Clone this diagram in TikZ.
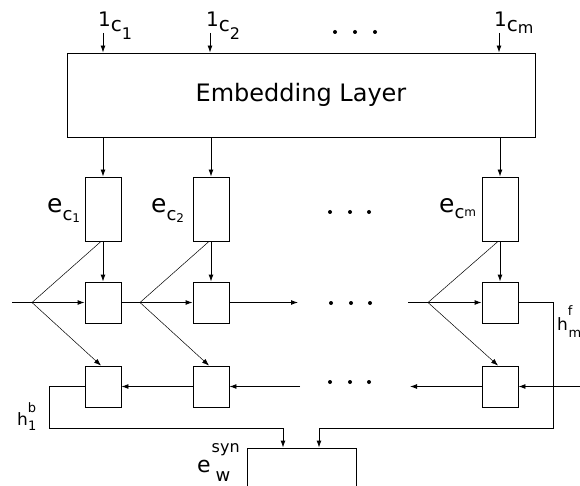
\documentclass[tikz,border=0pt]{standalone}
\usepackage{fontspec}
\setmainfont{DejaVu Sans}
\usetikzlibrary{arrows.meta}
\newcommand{\fs}[1]{\fontsize{#1}{#1}\selectfont}
\begin{document}
\begin{tikzpicture}[x=1pt,y=-1pt,
  box/.style={draw,line width=0.9pt,inner sep=0pt,rectangle},
  cell/.style={box,minimum width=36pt,minimum height=41pt},
  ebox/.style={box,minimum width=36pt,minimum height=64pt},
  ln/.style={line width=0.9pt},
  arr/.style={ln,-{Latex[length=7pt,width=5pt]}},
  fk/.style={line width=0.5pt},
  fkarr/.style={fk,-{Latex[length=7pt,width=5pt]}},
  lab/.style={anchor=base west,inner sep=0pt}]
\useasboundingbox (0,0) rectangle (580,486);
\fill[white] (0,0) rectangle (580,486);
% embedding layer
\node[box,minimum width=468pt,minimum height=84pt] (emb) at (301,95) {\fs{24}\raisebox{3pt}{Embedding Layer}};
% inputs
\node[lab] (l1) at (98,27) {\fs{20}1\raisebox{-5pt}{c}\raisebox{-13pt}{\fs{16}1}};
\node[lab] (l2) at (206,27) {\fs{20}1\raisebox{-5pt}{c}\raisebox{-13pt}{\fs{16}2}};
\node[lab] (lm) at (494,27) {\fs{20}1\raisebox{-5pt}{c}\raisebox{-7pt}{\fs{16}m}};
\coordinate (i1) at (103,33);
\coordinate (i2) at (210,33);
\coordinate (im) at (499,33);
\draw[arr] (i1) -- (i1 |- emb.north);
\draw[arr] (i2) -- (i2 |- emb.north);
\draw[arr] (im) -- (im |- emb.north);
\foreach \x in {335,355,375} \fill (\x,32) circle (2);
% embedding vectors
\node[ebox] (e1) at (103,209) {};
\node[ebox] (e2) at (211,209) {};
\node[ebox] (em) at (500,209) {};
\node[lab] (le1) at (47,212) {\fs{25}e\raisebox{-8pt}{\fs{18}c}\raisebox{-10pt}{\fs{12}1}};
\node[lab] (le2) at (151,212) {\fs{25}e\raisebox{-8pt}{\fs{18}c}\raisebox{-10pt}{\fs{12}2}};
\node[lab] (lem) at (439,212) {\fs{25}e\raisebox{-6pt}{\fs{18}c}\raisebox{-5pt}{\fs{12}m}};
\draw[arr] (e1 |- emb.south) -- (e1.north);
\draw[arr] (e2 |- emb.south) -- (e2.north);
\draw[arr] (em |- emb.south) -- (em.north);
\foreach \x in {330,350,369} \fill (\x,212) circle (2);
% forward cells
\node[cell] (f1) at (103,302.5) {};
\node[cell] (f2) at (211,302.5) {};
\node[cell] (fm) at (500,302.5) {};
% backward cells
\node[cell] (b1) at (103,386.5) {};
\node[cell] (b2) at (211,386.5) {};
\node[cell] (bm) at (500,386.5) {};
\draw[arr] (e1.south) -- (f1.north);
\draw[arr] (e2.south) -- (f2.north);
\draw[arr] (em.south) -- (fm.north);
% forks
\coordinate (k1) at (32,302.5);
\coordinate (k2) at (140,302.5);
\coordinate (km) at (428,302.5);
\draw[fk] (k1) -- ([xshift=-2pt]e1.south);
\draw[fk] (k2) -- ([xshift=-2pt]e2.south);
\draw[fk] (km) -- ([xshift=-2pt]em.south);
\draw[fkarr] (k1) -- ([xshift=-2pt]b1.north);
\draw[fkarr] (k2) -- ([xshift=-2pt]b2.north);
\draw[fkarr] (km) -- ([xshift=-2pt]bm.north);
% forward row
\coordinate (fin) at (12,302.5);
\coordinate (fo2) at (298,302.5);
\coordinate (fim) at (408,302.5);
\coordinate (rc) at (553,302.5);
\coordinate (sr) at (319,428);
\draw[arr] (fin) -- (f1.west);
\draw[arr] (f1.east) -- (f2.west);
\draw[arr] (f2.east) -- (fo2);
\draw[arr] (fim) -- (fm.west);
\foreach \x in {331,351,370} \fill (\x,303) circle (2);
% backward row
\coordinate (bin) at (582,386.5);
\coordinate (bo) at (410,386.5);
\coordinate (bi2) at (300,386.5);
\coordinate (lc) at (49,386.5);
\coordinate (sl) at (283,428);
\draw[arr] (bin) -- (bm.east);
\draw[arr] (bm.west) -- (bo);
\draw[arr] (bi2) -- (b2.east);
\draw[arr] (b2.west) -- (b1.east);
\foreach \x in {330,350,369} \fill (\x,382) circle (2);
% output box
\node[box,minimum width=109pt,minimum height=64pt] (syn) at (301.5,480) {};
\draw[arr] (fm.east) -- (rc) |- (sr) -- (sr |- syn.north);
\draw[arr] (b1.west) -- (lc) |- (sl) -- (sl |- syn.north);
% state labels
\node[lab] (hf) at (557,330) {\fs{17}h\raisebox{15pt}{\fs{13}f}\hspace{-4pt}\raisebox{-7pt}{\fs{13}m}};
\node[lab] (hb) at (17,425) {\fs{17}h\raisebox{13pt}{\fs{13}b}\hspace{-8pt}\raisebox{-5pt}{\fs{13}1}};
\node[lab] (ls) at (197,472) {\fs{22}e\hspace{1pt}\raisebox{20pt}{\fs{16}syn}\hspace{-24pt}\raisebox{-9pt}{\fs{18}w}};
\end{tikzpicture}
\end{document}
